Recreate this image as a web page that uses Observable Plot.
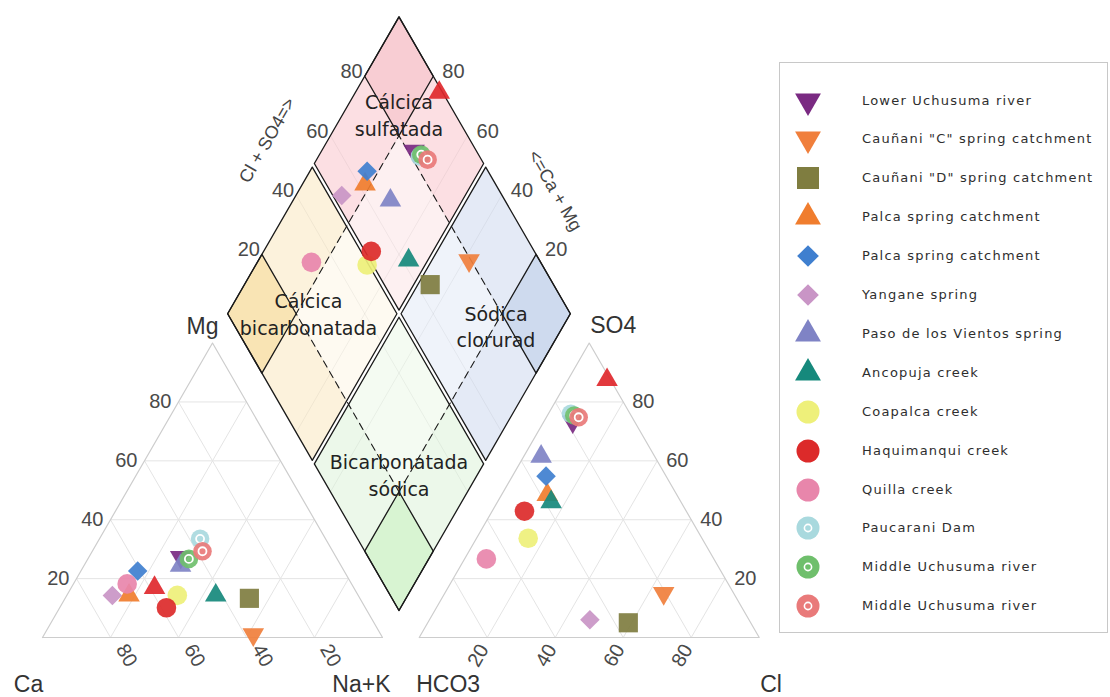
<!DOCTYPE html>
<html>
<head>
<meta charset="utf-8">
<script src="https://cdn.jsdelivr.net/npm/d3@7"></script>
<script src="https://cdn.jsdelivr.net/npm/@observablehq/plot@0.6"></script>
<style>
  body { margin: 0; background: #fff; }
  #wrap { position: relative; width: 1110px; height: 697px; overflow: hidden; background: #fff; }
  #chart { position: absolute; left: 0; top: 0; }
  #legend { position: absolute; left: 779px; top: 62px; width: 329px; height: 571px; box-sizing: border-box;
            border: 1.5px solid #c8c8c8; font-family: "DejaVu Sans", sans-serif; }
  .row { position: absolute; left: 0; width: 100%; height: 30px; }
  .row svg { position: absolute; left: 13px; top: 0; }
  .row span { position: absolute; left: 82px; top: 7px; font-size: 13px; letter-spacing: 1.2px; color: #2e2e2e; white-space: nowrap; }
</style>
</head>
<body>
<div id="wrap"><div id="chart"></div><div id="legend"></div></div>
<script>
// ---------------- DATA ----------------
const sampleNames = [
  "Lower Uchusuma river", "Cauñani \"C\" spring catchment", "Cauñani \"D\" spring catchment",
  "Palca spring catchment", "Palca spring catchment", "Yangane spring", "Paso de los Vientos spring",
  "Ancopuja creek", "Coapalca creek", "Haquimanqui creek", "Quilla creek", "Paucarani Dam",
  "Middle Uchusuma river", "Middle Uchusuma river", "(sin leyenda)"
];
const inLegend = [true,true,true,true,true,true,true,true,true,true,true,true,true,true,false];
// cations (% meq)
const caPct   = [45.7, 37.5, 32.5, 67.4, 60.7, 72.3, 47.2, 41.9, 53.2, 58.5, 66.0, 36.9, 43.6, 38.3, 58.6];
const mgPct   = [27.3,  1.0, 13.3, 14.3, 22.6, 14.3, 24.4, 14.3, 14.3, 10.1, 18.2, 33.5, 26.7, 29.3, 16.9];
const naKPct  = [27.0, 61.5, 54.2, 18.3, 16.7, 13.4, 28.4, 43.8, 32.5, 31.4, 15.8, 29.6, 29.7, 32.4, 24.5];
// anions (% meq)
const hco3Pct = [18.2, 20.6, 36.0, 38.1, 35.3, 46.8, 33.4, 38.2, 51.1, 47.6, 66.9, 17.4, 16.7, 15.7,  1.0];
const so4Pct  = [73.3, 15.0,  5.0, 48.5, 54.8,  6.0, 61.5, 46.0, 33.7, 42.9, 26.7, 76.0, 75.4, 74.8, 87.5];
const clPct   = [ 8.5, 64.4, 59.0, 13.4,  9.9, 47.2,  5.1, 15.8, 15.2,  9.5,  6.4,  6.6,  7.9,  9.5, 11.5];

const tickValues = [20, 40, 60, 80];
const regionNames = ["Cálcica\nsulfatada", "Cálcica\nbicarbonatada", "Sódica\nclorurad", "Bicarbonatada\nsódica"];

// ---------------- STYLES ----------------
const sampleColors = ["#7a2a82", "#f07f3c", "#7f7d40", "#f07d2e", "#3f7fcf", "#c995c6", "#7f83c5",
  "#16897c", "#eef07a", "#dc2a2a", "#e886ab", "#a9d9de", "#6fbf6c", "#e97a7a", "#e0282d"];
const sampleShapes = ["down", "down", "square", "up", "diamond", "diamond", "up", "up",
  "circle", "circle", "circle", "ring", "ring", "ring", "up"];
// drawing order: unlisted sample first, then legend order
const drawOrder = [14, 0, 1, 2, 3, 4, 5, 6, 7, 8, 9, 10, 11, 12, 13];

// quadrant colours: [arms, inner, corner]
const quadColors = {
  top:    ["#fcdfe3", "#fdf0f1", "#f8cdd3"],
  left:   ["#fcf2dc", "#fefaf1", "#f9e4b4"],
  right:  ["#e4eaf6", "#eff3fa", "#cedaee"],
  bottom: ["#ecf8ea", "#f4fbf2", "#d8f4d2"]
};

// ---------------- GEOMETRY ----------------
const SQ = Math.sqrt(3) / 2;
const GAP = 10.8;
const DB = {x: 104.85, y: 7.94}, DS = 1.008;   // diamond bottom vertex and scale
function cat(c, m, n) { const t = c + m + n; m = m / t * 100; n = n / t * 100; return {x: n + m / 2, y: m * SQ}; }
function an(h, s, c) { const t = h + s + c; s = s / t * 100; c = c / t * 100; return {x: 100 + GAP + c + s / 2, y: s * SQ}; }
function dia(a, b) { return {x: DB.x + DS * (b - a) / 2, y: DB.y + DS * (a + b) * SQ}; }
function rect(a0, a1, b0, b1) { return [dia(a0, b0), dia(a1, b0), dia(a1, b1), dia(a0, b1), dia(a0, b0)]; }

const marks = [];

// ---- Diamond fills ----
const eps = 0.6;
const quads = [
  {key: "top",    a: [50 + eps, 100], b: [50 + eps, 100]},
  {key: "left",   a: [50 + eps, 100], b: [0, 50 - eps]},
  {key: "right",  a: [0, 50 - eps],   b: [50 + eps, 100]},
  {key: "bottom", a: [0, 50 - eps],   b: [0, 50 - eps]}
];
function inner(r) { return [Math.max(r[0], 20), Math.min(r[1], 80)]; }
function corner(r) { return r[1] === 100 ? [80, 100] : [0, 20]; }
for (const q of quads) {
  const [arm, inn, cor] = quadColors[q.key];
  const ia = inner(q.a), ib = inner(q.b), ca = corner(q.a), cb = corner(q.b);
  marks.push(Plot.line(rect(q.a[0], q.a[1], q.b[0], q.b[1]), {x: "x", y: "y", fill: arm, stroke: "none"}));
  marks.push(Plot.line(rect(ia[0], ia[1], ib[0], ib[1]), {x: "x", y: "y", fill: inn, stroke: "none"}));
  marks.push(Plot.line(rect(ca[0], ca[1], cb[0], cb[1]), {x: "x", y: "y", fill: cor, stroke: "none"}));
}

// ---- Triangle grids ----
const gridLevels = [20, 40, 60, 80];
function seg(p, q) { return {x1: p.x, y1: p.y, x2: q.x, y2: q.y}; }
const grids = [];
for (const v of gridLevels) {
  grids.push(seg(cat(100 - v, v, 0), cat(0, v, 100 - v)));
  grids.push(seg(cat(v, 100 - v, 0), cat(v, 0, 100 - v)));
  grids.push(seg(cat(100 - v, 0, v), cat(0, 100 - v, v)));
  grids.push(seg(an(100 - v, v, 0), an(0, v, 100 - v)));
  grids.push(seg(an(v, 100 - v, 0), an(v, 0, 100 - v)));
  grids.push(seg(an(100 - v, 0, v), an(0, 100 - v, v)));
}
marks.push(Plot.link(grids, {x1: "x1", y1: "y1", x2: "x2", y2: "y2", stroke: "#e4e4e4", strokeWidth: 1}));
const dgrid = [];
for (const v of gridLevels) {
  dgrid.push(seg(dia(v, 0), dia(v, 100)));
  dgrid.push(seg(dia(0, v), dia(100, v)));
}
marks.push(Plot.link(dgrid, {x1: "x1", y1: "y1", x2: "x2", y2: "y2", stroke: "#000", strokeOpacity: 0.05, strokeWidth: 1}));

// ---- Triangle outlines ----
marks.push(Plot.line([cat(100, 0, 0), cat(0, 0, 100), cat(0, 100, 0), cat(100, 0, 0)], {x: "x", y: "y", stroke: "#cdcdcd", strokeWidth: 1.2}));
marks.push(Plot.line([an(100, 0, 0), an(0, 0, 100), an(0, 100, 0), an(100, 0, 0)], {x: "x", y: "y", stroke: "#cdcdcd", strokeWidth: 1.2}));

// ---- Diamond outlines ----
marks.push(Plot.line(rect(20, 80, 20, 80), {x: "x", y: "y", stroke: "#1a1a1a", strokeWidth: 1.1, strokeDasharray: "7,5"}));
for (const q of quads) {
  marks.push(Plot.line(rect(q.a[0], q.a[1], q.b[0], q.b[1]), {x: "x", y: "y", stroke: "#1a1a1a", strokeWidth: 1.3}));
  const ca = corner(q.a), cb = corner(q.b);
  marks.push(Plot.line(rect(ca[0], ca[1], cb[0], cb[1]), {x: "x", y: "y", stroke: "#1a1a1a", strokeWidth: 1.3}));
}

// ---- Region labels ----
const regionAt = [dia(83.6, 83.6), dia(76.5, 23.7), dia(19.7, 76.3), dia(23, 23)];
marks.push(Plot.text(regionNames.map((t, i) => ({t, ...regionAt[i]})), {
  x: "x", y: "y", text: "t", fontSize: 19, lineHeight: 1.4, fontFamily: "DejaVu Sans", fill: "#222"
}));

// ---- Tick labels ----
const tickFont = {fontFamily: "Liberation Sans", fontSize: 20, fill: "#4a4a4a"};
marks.push(Plot.text(tickValues.map(v => ({v, ...cat(100 - v, v, 0)})), {x: "x", y: "y", text: "v", textAnchor: "end", dx: -7, ...tickFont}));
marks.push(Plot.text(tickValues.map(v => ({v, ...cat(v, 0, 100 - v)})), {x: "x", y: "y", text: "v", rotate: 60, dx: 16, dy: 18, ...tickFont}));
marks.push(Plot.text(tickValues.map(v => ({v, ...an(0, v, 100 - v)})), {x: "x", y: "y", text: "v", textAnchor: "start", dx: 9, ...tickFont}));
marks.push(Plot.text(tickValues.map(v => ({v, ...an(100 - v, 0, v)})), {x: "x", y: "y", text: "v", rotate: -60, dx: -9, dy: 18, ...tickFont}));
marks.push(Plot.text(tickValues.map(v => ({v, ...dia(100, v)})), {x: "x", y: "y", text: "v", textAnchor: "end", lineAnchor: "bottom", dx: -2, dy: 2, ...tickFont}));
marks.push(Plot.text(tickValues.map(v => ({v, ...dia(v, 100)})), {x: "x", y: "y", text: "v", textAnchor: "start", lineAnchor: "bottom", dx: 9, dy: 2, ...tickFont}));

// ---- Axis titles ----
const titleFont = {fontFamily: "Liberation Sans", fontSize: 23, fill: "#333"};
marks.push(Plot.text([{t: "Mg", ...cat(0, 100, 0)}], {x: "x", y: "y", text: "t", dx: -10, dy: -16, ...titleFont}));
marks.push(Plot.text([{t: "Ca", ...cat(100, 0, 0)}], {x: "x", y: "y", text: "t", dx: -14, dy: 47, ...titleFont}));
marks.push(Plot.text([{t: "Na+K", ...cat(0, 0, 100)}], {x: "x", y: "y", text: "t", textAnchor: "end", dx: 8, dy: 47, ...titleFont}));
marks.push(Plot.text([{t: "HCO3", ...an(100, 0, 0)}], {x: "x", y: "y", text: "t", textAnchor: "start", dx: -3, dy: 47, ...titleFont}));
marks.push(Plot.text([{t: "Cl", ...an(0, 0, 100)}], {x: "x", y: "y", text: "t", textAnchor: "start", dx: 1, dy: 47, ...titleFont}));
marks.push(Plot.text([{t: "SO4", ...an(0, 100, 0)}], {x: "x", y: "y", text: "t", textAnchor: "start", dx: 1, dy: -17, ...titleFont}));
const diaTitle = {fontFamily: "Liberation Sans", fontSize: 18, fill: "#444"};
marks.push(Plot.text([{t: "Cl + SO4=>", ...dia(100, 50)}], {x: "x", y: "y", text: "t", rotate: -60, dx: -46, dy: -25, ...diaTitle}));
marks.push(Plot.text([{t: "<=Ca + Mg", ...dia(33, 100)}], {x: "x", y: "y", text: "t", rotate: 60, dx: 41, dy: -25, ...diaTitle}));

// ---- Symbols ----
const S3 = Math.sqrt(3);
const triDown = {draw(ctx, size) { const y = -Math.sqrt(size / (S3 * 3)); ctx.moveTo(0, -y * 2); ctx.lineTo(-S3 * y, y); ctx.lineTo(S3 * y, y); ctx.closePath(); }};
const shapeSpec = {
  circle:  {symbol: "circle", r: 9.8},
  ring:    {symbol: "circle", r: 9.3},
  square:  {symbol: "square", r: 10.8},
  up:      {symbol: "triangle", r: 8},
  down:    {symbol: triDown, r: 8},
  diamond: {symbol: "diamond2", r: 8.8}
};

// ---- Points ----
for (const i of drawOrder) {
  const camg = caPct[i] + mgPct[i], clso4 = so4Pct[i] + clPct[i];
  const tc = caPct[i] + mgPct[i] + naKPct[i], ta = hco3Pct[i] + so4Pct[i] + clPct[i];
  const pts = [cat(caPct[i], mgPct[i], naKPct[i]), an(hco3Pct[i], so4Pct[i], clPct[i]), dia(camg / tc * 100, clso4 / ta * 100)];
  const sp = shapeSpec[sampleShapes[i]];
  marks.push(Plot.dot(pts, {x: "x", y: "y", symbol: sp.symbol, r: sp.r, fill: sampleColors[i], stroke: "none", fillOpacity: 0.92}));
  if (sampleShapes[i] === "ring") {
    marks.push(Plot.dot(pts, {x: "x", y: "y", r: 4, fill: "none", stroke: "white", strokeWidth: 1.8}));
  }
}

const chart = Plot.plot({
  width: 780, height: 697, margin: 0,
  x: {domain: [-42 / 3.4, (780 - 42) / 3.4], range: [0, 780], axis: null},
  y: {domain: [(637 - 697) / 3.4, 637 / 3.4], range: [697, 0], axis: null},
  style: {background: "white", overflow: "visible"},
  marks
});
document.getElementById("chart").append(chart);

// ---------------- LEGEND ----------------
const legendShape = {
  circle:  {type: d3.symbolCircle, size: Math.PI * 11.5 * 11.5},
  ring:    {type: d3.symbolCircle, size: Math.PI * 11.5 * 11.5},
  square:  {type: d3.symbolSquare, size: 484},
  up:      {type: d3.symbolTriangle, size: 290},
  down:    {type: triDown, size: 290},
  diamond: {type: d3.symbolDiamond2, size: 300}
};
const legend = document.getElementById("legend");
let row = 0;
sampleNames.forEach((nm, i) => {
  if (!inLegend[i]) return;
  const div = document.createElement("div");
  div.className = "row";
  div.style.top = (38 - 15 + row * 38.9 - 0.5) + "px";
  const ls = legendShape[sampleShapes[i]];
  const path = d3.symbol(ls.type, ls.size)();
  let svg = `<svg width="30" height="30" viewBox="-15 -15 30 30"><path d="${path}" fill="${sampleColors[i]}"/>`;
  if (sampleShapes[i] === "ring") svg += `<circle r="3.6" fill="none" stroke="white" stroke-width="1.6"/>`;
  svg += `</svg>`;
  div.innerHTML = svg;
  const span = document.createElement("span");
  span.textContent = nm;
  div.appendChild(span);
  legend.appendChild(div);
  row++;
});
</script>
</body>
</html>
